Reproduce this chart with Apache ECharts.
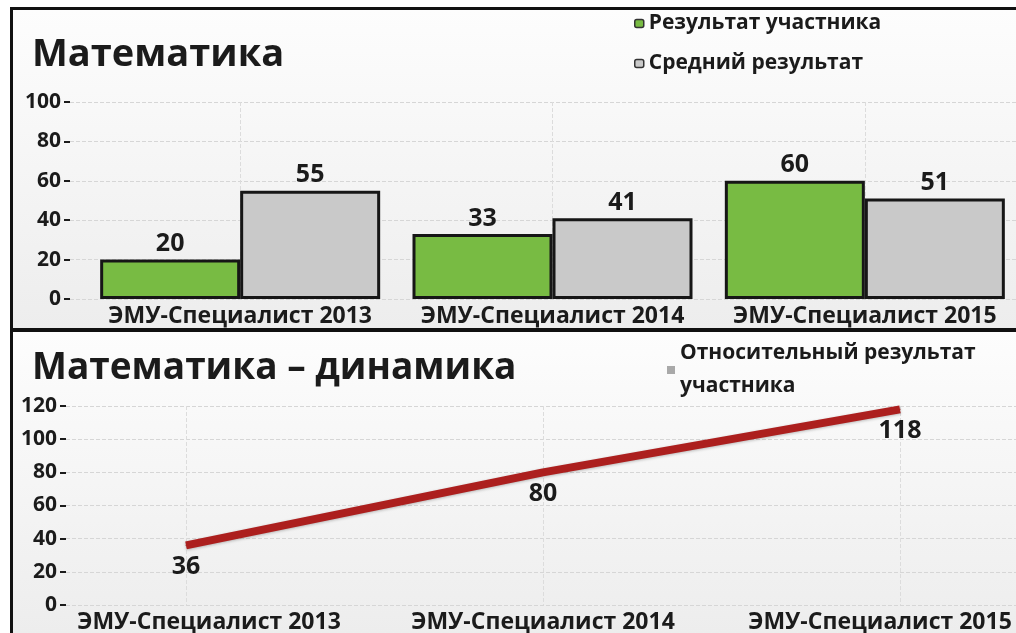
<!DOCTYPE html>
<html>
<head>
<meta charset="utf-8">
<script src="https://cdn.jsdelivr.net/npm/echarts@6/dist/echarts.min.js"></script>
<style>
    html, body { margin: 0; padding: 0; background: #fff; width: 1016px; height: 633px; overflow: hidden; }
    #frame {
        position: absolute; left: 10px; top: 7px; width: 1006px; height: 626px;
        border-left: 3px solid #111; border-top: 3px solid #111;
    }
    .chart { width: 1003px; background: linear-gradient(to bottom, #fdfdfd, #ededed); }
    #top { height: 318px; border-bottom: 4px solid #111; }
    #bottom { height: 301px; }
</style>
</head>
<body>
<div id="frame">
    <div id="top" class="chart"></div>
    <div id="bottom" class="chart"></div>
</div>
<script>
// данные
const categories = ['ЭМУ-Специалист 2013', 'ЭМУ-Специалист 2014', 'ЭМУ-Специалист 2015'];
const participantScores = [20, 33, 60];
const averageScores = [55, 41, 51];
const relativeScores = [36, 80, 118];

const FONT = '"Open Sans", "DejaVu Sans", sans-serif';
const INK = '#1b1b1b';
const gridLine = { show: true, lineStyle: { color: '#d6d6d6', type: 'dashed', width: 1 } };

const valueLabels = {
    fontFamily: FONT, fontSize: 21, fontWeight: 'bold', color: INK, margin: 9,
};

// верхний график - столбцы
const topChart = echarts.init(document.getElementById('top'));
topChart.setOption({
    animation: false,
    title: {
        text: 'Математика', left: 14, top: 21,
        textStyle: { fontFamily: FONT, fontSize: 38, fontWeight: 'bold', color: INK },
    },
    legend: {
        orient: 'vertical', left: 621, top: 0, padding: 0, itemGap: 13,
        icon: 'roundRect', itemWidth: 9, itemHeight: 8,
        itemStyle: { borderColor: '#333', borderWidth: 1.5 },
        textStyle: { fontFamily: FONT, fontSize: 21, fontWeight: 'bold', color: INK, lineHeight: 27 },
    },
    grid: [
        { left: 57, right: 0, top: 92, bottom: 29, outerBoundsMode: 'none' },
        { left: 71, right: -5, top: 92, bottom: 29, outerBoundsMode: 'none' },
    ],
    xAxis: [
        { gridIndex: 0, type: 'value', show: false },
        {
            gridIndex: 1, type: 'category', data: categories,
            axisLine: { show: false }, axisTick: { show: false },
            axisLabel: { interval: 0, fontFamily: FONT, fontSize: 23, fontWeight: 'bold', color: INK, margin: 6 },
            splitLine: { show: true, alignWithLabel: true, lineStyle: { color: '#dcdcdc', type: 'dashed' } },
        },
    ],
    yAxis: [
        {
            gridIndex: 0, type: 'value', min: 0, max: 100, interval: 20,
            axisLine: { show: false },
            axisTick: { show: true, length: 6, lineStyle: { color: INK, width: 2 } },
            axisLabel: valueLabels,
            splitLine: gridLine,
        },
        { gridIndex: 1, type: 'value', min: 0, max: 100, interval: 20, show: false },
    ],
    series: [
        {
            name: 'Результат участника', type: 'bar', xAxisIndex: 1, yAxisIndex: 1,
            data: participantScores, barWidth: 140, barGap: '0%',
            itemStyle: { color: '#78bb43', borderColor: '#161616', borderWidth: 3 },
            label: { show: true, position: 'top', distance: 3, fontFamily: FONT, fontSize: 25, fontWeight: 'bold', color: INK },
        },
        {
            name: 'Средний результат', type: 'bar', xAxisIndex: 1, yAxisIndex: 1,
            data: averageScores, barWidth: 140,
            itemStyle: { color: '#c9c9c9', borderColor: '#161616', borderWidth: 3 },
            label: { show: true, position: 'top', distance: 3, fontFamily: FONT, fontSize: 25, fontWeight: 'bold', color: INK },
        },
    ],
});

// нижний график - динамика
const bottomChart = echarts.init(document.getElementById('bottom'));
bottomChart.setOption({
    animation: false,
    title: {
        text: 'Математика – динамика', left: 14, top: 13,
        textStyle: { fontFamily: FONT, fontSize: 37, fontWeight: 'bold', color: INK },
    },
    legend: {
        left: 654, top: 0, padding: [5, 0, 0, 0],
        data: [{ name: 'Относительный результат участника', icon: 'rect', itemStyle: { color: '#a9a9a9' } }],
        itemWidth: 8, itemHeight: 8,
        formatter: () => 'Относительный результат\nучастника',
        textStyle: { fontFamily: FONT, fontSize: 21, fontWeight: 'bold', color: INK, lineHeight: 33 },
    },
    grid: [
        { left: 53, right: 0, top: 74, bottom: 28, outerBoundsMode: 'none' },
        { left: 173, right: 116, top: 74, bottom: 28, outerBoundsMode: 'none' },
    ],
    xAxis: [
        { gridIndex: 0, type: 'value', show: false },
        {
            gridIndex: 1, type: 'category', data: categories, boundaryGap: false,
            axisLine: { show: false }, axisTick: { show: false },
            axisLabel: {
                interval: 0, fontFamily: FONT, fontSize: 23, fontWeight: 'bold', color: INK, margin: 6,
                // крайние подписи сдвинуты внутрь, как в оригинале
                formatter: (v, i) => i === 0 ? '{first|' + v + '}' : i === categories.length - 1 ? '{last|' + v + '}' : v,
                rich: {
                    first: { padding: [0, 0, 0, 46], fontFamily: FONT, fontSize: 23, fontWeight: 'bold', color: INK },
                    last: { padding: [0, 40, 0, 0], fontFamily: FONT, fontSize: 23, fontWeight: 'bold', color: INK },
                },
            },
            splitLine: { show: true, lineStyle: { color: '#dcdcdc', type: 'dashed' } },
        },
    ],
    yAxis: [
        {
            gridIndex: 0, type: 'value', min: 0, max: 120, interval: 20,
            axisLine: { show: false },
            axisTick: { show: true, length: 6, lineStyle: { color: INK, width: 2 } },
            axisLabel: valueLabels,
            splitLine: gridLine,
        },
        { gridIndex: 1, type: 'value', min: 0, max: 120, interval: 20, show: false },
    ],
    series: [
        {
            name: 'Относительный результат участника', type: 'line', xAxisIndex: 1, yAxisIndex: 1,
            data: relativeScores, symbol: 'circle', symbolSize: 1, showSymbol: true,
            lineStyle: { color: '#ac1f1e', width: 8, shadowColor: 'rgba(0,0,0,0.25)', shadowBlur: 3, shadowOffsetY: 1 },
            itemStyle: { color: '#ac1f1e' },
            label: { show: true, position: 'bottom', distance: 9, fontFamily: FONT, fontSize: 25, fontWeight: 'bold', color: INK },
        },
    ],
});
</script>
</body>
</html>
